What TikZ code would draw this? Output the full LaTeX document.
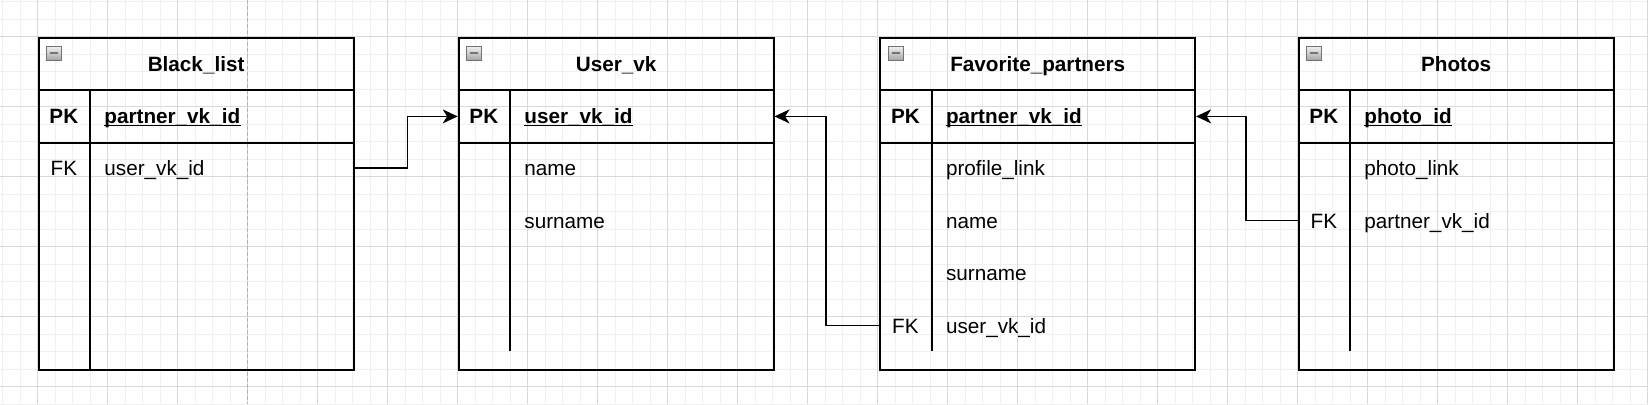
\documentclass[tikz,border=0pt]{standalone}
\usepackage{fontspec}
\setmainfont{Liberation Sans}
\usetikzlibrary{arrows.meta,calc}
\newcommand\fs{\fontsize{10.35pt}{12pt}\selectfont}
\tikzset{
  minorgrid/.style={draw=black!6, line width=0.5pt},
  majorgrid/.style={draw=black!15, line width=0.5pt},
  pageline/.style={draw=black!30, line width=0.7pt, dash pattern=on 2pt off 1pt},
  tline/.style={draw=black, line width=0.9pt},
  tbl/.style={tline, anchor=north west, inner sep=0pt, minimum width=157.5pt, minimum height=166.15pt},
  head/.style={tline, anchor=north west, inner sep=0pt, minimum width=157.5pt, minimum height=26.3pt,
    font=\fs\bfseries, text height=7.5pt, text depth=0pt},
  pkrow/.style={tline, anchor=north west, inner sep=0pt, minimum width=157.5pt, minimum height=26.2pt},
  txt/.style={inner sep=0pt, text height=7.5pt, text depth=0pt, font=\fs},
  keytxt/.style={txt, anchor=center},
  fldtxt/.style={txt, anchor=west},
  pktxt/.style={font=\fs\bfseries},
  minusicon/.style={draw=black!55, line width=0.4pt, top color=black!5, bottom color=black!35,
    minimum width=7.5pt, minimum height=7pt, inner sep=0pt,
    path picture={\draw[line width=1.1pt] ([xshift=1.7pt]path picture bounding box.west) -- ([xshift=-1.7pt]path picture bounding box.east);}},
  conn/.style={draw=black, line width=0.8pt, -{Stealth[length=7.5pt,width=7pt,inset=2.2pt]}}
}
\newcommand\ertab[3]{%
  \node[tbl] (#1) at (#2,36.7) {};
  \node[head] (#1-h) at (#2,36.7) {#3};
  \node[pkrow] (#1-pk) at (#2,89.3) {};
  \node[minusicon] (#1-m) at (#2+16.5,53) {};
}
\newcommand\errow[5]{%
  \node[keytxt] (#1k) at (#2+26.15,#3) {#4};
  \node[fldtxt] (#1f) at (#2+66.3,#3) {#5};
}
\newcommand\erpk[3]{%
  \node[keytxt, pktxt] (#1-pkk) at (#2+26.15,115.5) {PK};
  \node[fldtxt, pktxt] (#1-pkf) at (#2+66.3,115.5) {#3};
  \draw[line width=0.7pt] ([yshift=-1.1pt]#1-pkf.south west) -- ([yshift=-1.1pt]#1-pkf.south east);
}
\begin{document}
\begin{tikzpicture}[x=0.5pt,y=-0.5pt]
\useasboundingbox (0,0) rectangle (1648,404);
% grid
\foreach \i in {0,...,94} \draw[minorgrid] ({2.7+17.5*\i},0) -- ({2.7+17.5*\i},404);
\foreach \i in {0,...,23} \draw[minorgrid] (0,{1.7+17.5*\i}) -- (1648,{1.7+17.5*\i});
\foreach \i in {0,...,23} \draw[majorgrid] ({37.7+70*\i},0) -- ({37.7+70*\i},404);
\foreach \i in {0,...,5} \draw[majorgrid] (0,{36.7+70*\i}) -- (1648,{36.7+70*\i});
\draw[pageline] (247.7,0) -- (247.7,404);

% Black_list
\ertab{bl}{37.7}{Black\_list}
\erpk{bl}{37.7}{partner\_vk\_id}
\errow{bl-1}{37.7}{168}{FK}{user\_vk\_id}
\draw[tline] ($(bl-pk.north west)+(52.3,0)$) -- ($(bl.south west)+(52.3,0)$);

% User_vk
\ertab{uv}{457.7}{User\_vk}
\erpk{uv}{457.7}{user\_vk\_id}
\errow{uv-1}{457.7}{168}{}{name}
\errow{uv-2}{457.7}{220.5}{}{surname}
\draw[tline] ($(uv-pk.north west)+(52.3,0)$) -- ++(0,261.7);

% Favorite_partners
\ertab{fp}{879.3}{Favorite\_partners}
\erpk{fp}{879.3}{partner\_vk\_id}
\errow{fp-1}{879.3}{168}{}{profile\_link}
\errow{fp-2}{879.3}{220.5}{}{name}
\errow{fp-3}{879.3}{273}{}{surname}
\errow{fp-4}{879.3}{325.5}{FK}{user\_vk\_id}
\draw[tline] ($(fp-pk.north west)+(52.3,0)$) -- ++(0,261.7);

% Photos
\ertab{ph}{1297.7}{Photos}
\erpk{ph}{1297.7}{photo\_id}
\errow{ph-1}{1297.7}{168}{}{photo\_link}
\errow{ph-2}{1297.7}{220.5}{FK}{partner\_vk\_id}
\draw[tline] ($(ph-pk.north west)+(52.3,0)$) -- ++(0,261.7);

% connectors
\draw[conn] (bl-1f.west -| bl.east) -- ++(53,0) |- (uv-pk.west);
\draw[conn] (fp-4f.west -| fp.west) -- ++(-53.6,0) |- (uv-pk.east);
\draw[conn] (ph-2f.west -| ph.west) -- ++(-51.7,0) |- (fp-pk.east);
\end{tikzpicture}
\end{document}
